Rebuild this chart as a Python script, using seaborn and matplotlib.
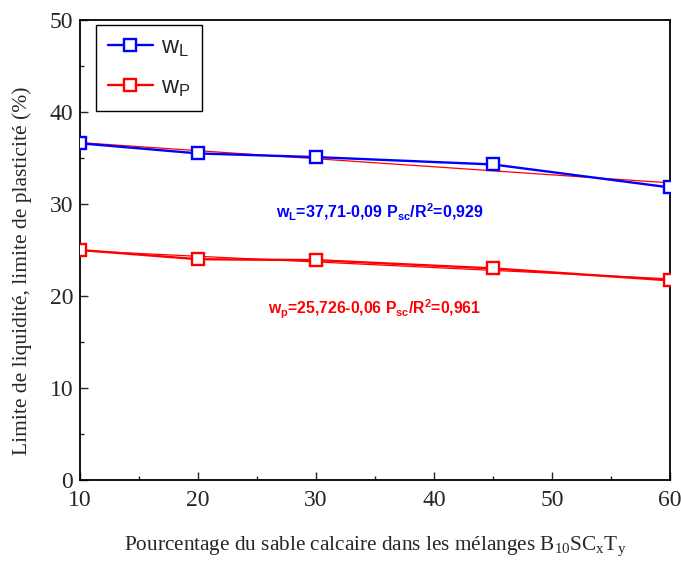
import matplotlib
matplotlib.use('Agg')
import matplotlib.pyplot as plt
from matplotlib.lines import Line2D
import numpy as np
import pandas as pd
import seaborn as sns

# data
sable = [10, 20, 30, 45, 60]
w_l = [36.6, 35.5, 35.1, 34.3, 31.8]
w_p = [25.0, 24.0, 23.9, 23.0, 21.7]

df_l = pd.DataFrame({'x': sable, 'y': w_l})
df_p = pd.DataFrame({'x': sable, 'y': w_p})

sns.set_theme(style='ticks')
plt.rcParams['font.family'] = ['Liberation Serif', 'DejaVu Serif']
plt.rcParams['mathtext.fontset'] = 'custom'
plt.rcParams['mathtext.rm'] = 'Liberation Sans'
plt.rcParams['mathtext.it'] = 'Liberation Sans'
plt.rcParams['mathtext.bf'] = 'Liberation Sans:bold'

fig = plt.figure(figsize=(6.81, 5.61), dpi=100)
ax = fig.add_axes([0.1175, 0.1444, 0.8665, 0.8199])

# droites de regression (fines, rouges)
for d in [df_l, df_p]:
    sns.regplot(data=d, x='x', y='y', scatter=False, ci=None, color='#ff0000',
                line_kws={'linewidth': 0.9, 'zorder': 2}, ax=ax)

for d, c in [(df_l, '#0000ff'), (df_p, '#ff0000')]:
    sns.lineplot(data=d, x='x', y='y', color=c, marker='s', markersize=9,
                 markerfacecolor='white', markeredgecolor=c, markeredgewidth=1.7,
                 linewidth=1.7, zorder=3, ax=ax)

handles = [Line2D([], [], color=c, marker='s', markersize=9, markerfacecolor='white',
                  markeredgecolor=c, markeredgewidth=1.7, linewidth=1.7)
           for c in ['#0000ff', '#ff0000']]
leg = ax.legend(handles, [r'$\mathrm{w}_{\mathrm{L}}$', r'$\mathrm{w}_{\mathrm{P}}$'],
                loc='upper left', bbox_to_anchor=(0.027, 0.99), fancybox=False,
                edgecolor='black', framealpha=1, fontsize=17, handlelength=1.9,
                borderpad=0.5, labelspacing=0.75, handletextpad=0.35, borderaxespad=0)
leg.get_frame().set_linewidth(1.0)

ax.text(35.4, 29.1, r'$\mathbf{w_{L}}$=37,71-0,09 $\mathbf{P_{sc}}$/$\mathbf{R^{2}}$=0,929',
        color='#0000ff', fontsize=11.5, fontweight='bold', family='Liberation Sans',
        ha='center', va='center')
ax.text(35.0, 18.6, r'$\mathbf{w_{p}}$=25,726-0,06 $\mathbf{P_{sc}}$/$\mathbf{R^{2}}$=0,961',
        color='#ff0000', fontsize=11.3, fontweight='bold', family='Liberation Sans',
        ha='center', va='center')

ax.set_xlim(10, 60)
ax.set_ylim(0, 50)
ax.set_xticks([10, 20, 30, 40, 50, 60])
ax.set_yticks([0, 10, 20, 30, 40, 50])
ax.set_xticks([15, 25, 35, 45, 55], minor=True)
ax.set_yticks([5, 15, 25, 35, 45], minor=True)
ax.tick_params(which='both', direction='in', top=False, right=False, labelsize=17,
               width=1.0)
ax.tick_params(axis='x', pad=7)
ax.tick_params(axis='y', pad=5)
ax.tick_params(which='major', length=6)
ax.tick_params(which='minor', length=3)
for s in ax.spines.values():
    s.set_linewidth(1.3)
    s.set_color('black')

ax.set_xlabel(r'Pourcentage du sable calcaire dans les mélanges B$_{\mathregular{10}}$SC$_{\mathregular{x}}$T$_{\mathregular{y}}$',
              fontsize=15.3, labelpad=17)
ax.set_ylabel('Limite de liquidité, limite de plasticité (%)', fontsize=15.5)
ax.yaxis.set_label_coords(-0.082, 0.455)

fig.savefig('out.png', dpi=100)
